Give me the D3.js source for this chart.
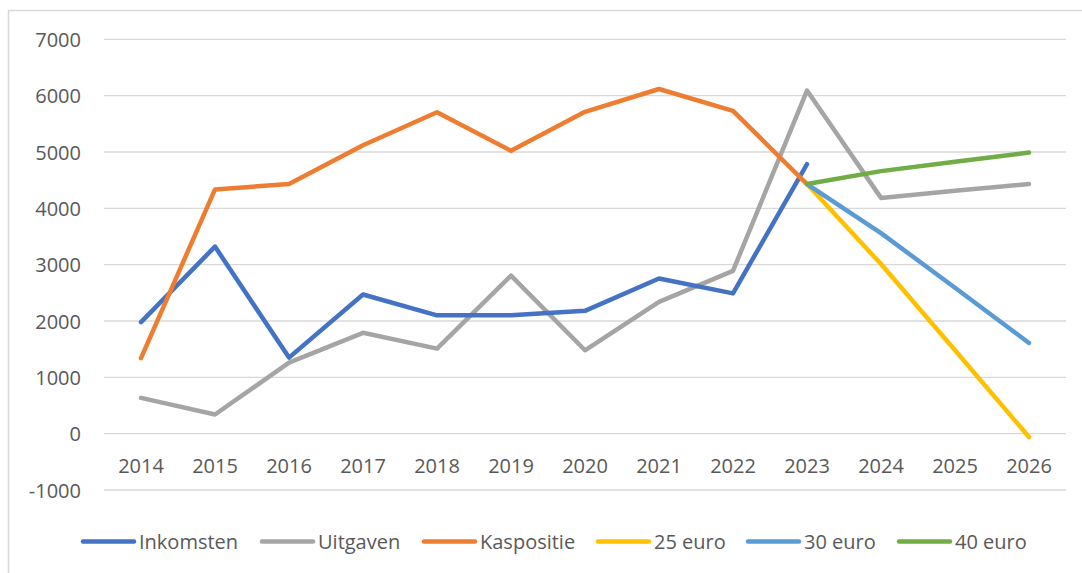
<!DOCTYPE html>
<html>
<head>
<meta charset="utf-8">
<script src="https://cdn.jsdelivr.net/npm/d3@7"></script>
<style>
  body { margin: 0; background: #fff; }
  svg { display: block; }
</style>
</head>
<body>
<div id="chart"></div>
<script>
// categories and values
var years = ["2014", "2015", "2016", "2017", "2018", "2019", "2020", "2021", "2022", "2023", "2024", "2025", "2026"];
var inkomsten = [1980, 3320, 1350, 2470, 2100, 2100, 2180, 2755, 2490, 4785, null, null, null];
var uitgaven = [635, 340, 1260, 1790, 1510, 2805, 1480, 2340, 2890, 6090, 4185, 4310, 4430];
var kaspositie = [1340, 4335, 4430, 5120, 5705, 5020, 5712, 6118, 5730, 4430, null, null, null];
var euro25 = [null, null, null, null, null, null, null, null, null, 4430, 3010, 1480, -60];
var euro30 = [null, null, null, null, null, null, null, null, null, 4430, 3560, 2590, 1610];
var euro40 = [null, null, null, null, null, null, null, null, null, 4430, 4660, 4825, 4990];
var yTicks = [-1000, 0, 1000, 2000, 3000, 4000, 5000, 6000, 7000];

var seriesNames = ["Inkomsten", "Uitgaven", "Kaspositie", "25 euro", "30 euro", "40 euro"];
var seriesValues = [inkomsten, uitgaven, kaspositie, euro25, euro30, euro40];
var seriesColors = ["#4472C4", "#A5A5A5", "#ED7D31", "#FFC000", "#5B9BD5", "#70AD47"];

var width = 1082, height = 573;
var font = "'Open Sans', 'DejaVu Sans', sans-serif";
var textColor = "#595959";

var svg = d3.select("#chart").append("svg")
	.attr("width", width).attr("height", height);

// chart border (runs off the right and bottom edge)
svg.append("rect").attr("x", 8.5).attr("y", 10.5)
	.attr("width", 1100).attr("height", 600)
	.attr("fill", "none").attr("stroke", "#d9d9d9").attr("stroke-width", 1.5);

var x = d3.scaleBand().domain(years).range([104, 1066]);
var y = d3.scaleLinear().domain([-1000, 7000]).range([490, 39.3]);

// gridlines
svg.append("g").selectAll("line").data(yTicks).enter().append("line")
	.attr("x1", 104).attr("x2", 1066)
	.attr("y1", function(d) { return y(d); })
	.attr("y2", function(d) { return y(d); })
	.attr("stroke", "#d9d9d9").attr("stroke-width", 1.3);

// y axis labels, plain hyphen minus and no thousands separator
var yAxis = d3.axisLeft(y).tickValues(yTicks)
	.tickFormat(function(d) { return String(d); })
	.tickSize(0).tickPadding(0);
var gy = svg.append("g").attr("transform", "translate(81,0)").call(yAxis);
gy.select(".domain").remove();
gy.selectAll("text").attr("font-family", font).attr("font-size", "20px")
	.attr("fill", textColor).attr("dy", "0.36em");

// x axis labels sit just under the zero line
var xAxis = d3.axisBottom(x).tickSize(0).tickPadding(0);
var gx = svg.append("g").attr("transform", "translate(0," + y(0) + ")").call(xAxis);
gx.select(".domain").remove();
gx.selectAll("text").attr("font-family", font).attr("font-size", "20px")
	.attr("fill", textColor).attr("dy", "0").attr("y", 39);

// lines
var line = d3.line()
	.defined(function(d) { return d != null; })
	.x(function(d, i) { return x(years[i]) + x.bandwidth() / 2; })
	.y(function(d) { return y(d); });

var drawOrder = [1, 0, 2, 3, 4, 5];
drawOrder.forEach(function(k) {
	svg.append("path").datum(seriesValues[k])
		.attr("d", line)
		.attr("fill", "none")
		.attr("stroke", seriesColors[k])
		.attr("stroke-width", 4.5)
		.attr("stroke-linejoin", "round")
		.attr("stroke-linecap", "round");
});

// legend
var legendX = [81, 260, 422, 596, 746, 897];
var legendY = 541.5;
var lg = svg.append("g").selectAll("g").data(seriesNames).enter().append("g")
	.attr("transform", function(d, i) { return "translate(" + legendX[i] + "," + legendY + ")"; });
lg.append("line").attr("x1", 2).attr("x2", 53).attr("y1", 0).attr("y2", 0)
	.attr("stroke", function(d, i) { return seriesColors[i]; })
	.attr("stroke-width", 4.5).attr("stroke-linecap", "round");
lg.append("text").text(function(d) { return d; })
	.attr("x", 58).attr("y", 7.5)
	.attr("font-family", font).attr("font-size", "20px").attr("fill", textColor);
</script>
</body>
</html>
